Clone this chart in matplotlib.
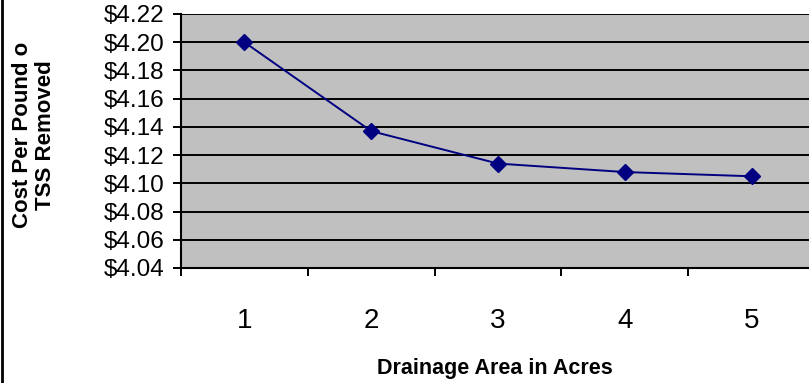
import matplotlib.pyplot as plt
import numpy as np
from matplotlib.ticker import FixedLocator, FuncFormatter

plt.rcParams['font.family'] = ['Liberation Sans', 'DejaVu Sans']

# data
areas = [1, 2, 3, 4, 5]
cost = [4.200, 4.137, 4.114, 4.108, 4.105]
y_ticks = [4.04, 4.06, 4.08, 4.10, 4.12, 4.14, 4.16, 4.18, 4.20, 4.22]

W, H = 809, 383
fig = plt.figure(figsize=(W / 100, H / 100), dpi=100)
# plot area in pixels: left 181, right ~815 (runs off the image), top 14, bottom 268
ax = fig.add_axes([181 / W, 1 - 268 / H, (815 - 181) / W, (268 - 14) / H])
ax.set_facecolor('#C0C0C0')

ax.plot(areas, cost, color='#000080', lw=1.4, marker='D', ms=8.5,
        markerfacecolor='#000080', markeredgecolor='#000080', zorder=3)

ax.set_xlim(0.5, 5.5)
ax.set_ylim(4.04, 4.22)
ax.set_yticks(y_ticks)
ax.yaxis.set_major_formatter(FuncFormatter(lambda v, p: '${:.2f}'.format(v)))
ax.grid(axis='y', color='black', lw=1.4)
ax.set_axisbelow(True)

ax.set_xticks(areas)
ax.set_xticklabels([str(a) for a in areas])
ax.xaxis.set_minor_locator(FixedLocator(np.arange(0.5, 6, 1)))
ax.tick_params(axis='x', which='major', length=0, pad=29, labelsize=20)
ax.tick_params(axis='x', which='minor', length=6, width=1.4, direction='out')
ax.tick_params(axis='y', length=6, width=1.4, direction='out', labelsize=17.5, pad=6)

for side in ['top', 'right']:
    ax.spines[side].set_visible(False)
for side in ['left', 'bottom']:
    ax.spines[side].set_linewidth(1.5)

fig.text(495 / W, 1 - 374 / H, 'Drainage Area in Acres', ha='center', va='baseline',
         fontsize=15.5, fontweight='bold')
fig.text(34 / W, 1 - 135 / H, 'Cost Per Pound o\nTSS Removed', ha='center', va='center',
         rotation=90, fontsize=16, fontweight='bold', linespacing=1.15)

# chart frame on the left edge
fig.add_artist(plt.Line2D([1.5 / W, 1.5 / W], [0, 1], color='black', lw=2,
                          transform=fig.transFigure))

fig.savefig('out.png', dpi=100)
